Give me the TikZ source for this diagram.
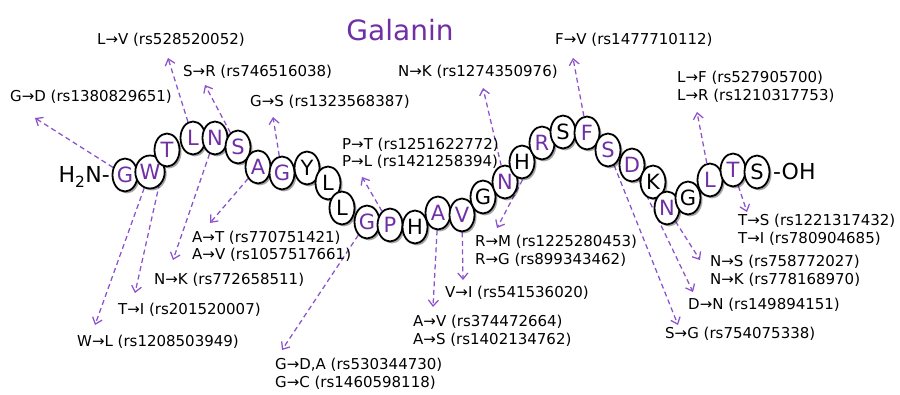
\documentclass[tikz,border=0pt]{standalone}
\usepackage{fontspec}
\setmainfont{DejaVu Sans}
\usetikzlibrary{shapes.geometric,arrows.meta,shadows,backgrounds}
\definecolor{pur}{RGB}{112,48,165}
\definecolor{lpur}{RGB}{140,82,205}
\begin{document}
\begin{tikzpicture}[x=1pt,y=-1pt,
  res/.style={ellipse,draw=black,line width=1.8pt,fill=white,minimum width=25pt,minimum height=33pt,inner sep=0pt,
    font=\fontsize{21}{21}\selectfont,
    drop shadow={shadow xshift=2pt,shadow yshift=-2pt,fill=black,opacity=0.35}},
  lab/.style={font=\fontsize{15}{17.5}\selectfont,align=left,anchor=west,inner sep=0pt},
  snp/.style={draw=lpur,line width=1.25pt,dash pattern=on 5pt off 3.5pt,
    -{Straight Barb[length=6pt,width=10pt,line width=1.25pt]}}]
\useasboundingbox (0,0) rectangle (900,395);

\node[font=\fontsize{28}{30}\selectfont,text=pur] (title) at (400,30) {Galanin};
\node[font=\fontsize{22}{22}\selectfont,anchor=east,inner sep=0pt] (nterm) at (110,177) {H\textsubscript{2}N-};
\node[font=\fontsize{22}{22}\selectfont,anchor=west,inner sep=0pt] (cterm) at (773,171) {-OH};

\foreach \i/\x/\y/\a/\c in {
  1/125/175/G/pur, 2/150/172/W/pur, 3/167/150/T/pur, 4/193/138/L/pur, 5/215/138/N/pur,
  6/238/147/S/pur, 7/258/167/A/pur, 8/282/173/G/pur, 9/307/168/Y/black, 10/328/183/L/black,
  11/342/208/L/black, 12/367/222/G/pur, 13/390/225/P/pur, 14/415/227/H/black, 15/438/213/A/pur,
  16/462/215/V/pur, 17/483/197/G/black, 18/505/182/N/pur, 19/522/162/H/black, 20/542/143/R/pur,
  21/563/132/S/black, 22/587/133/F/pur, 23/608/150/S/pur, 24/632/165/D/pur, 25/653/182/K/black,
  26/667/208/N/pur, 27/688/198/G/black, 28/710/180/L/pur, 29/733/170/T/pur, 30/757/172/S/black}
  \node[res,text=\c] (r\i) at (\x,\y) {\a};

% labels
\node[lab] (l1) at (10,97) {G→D (rs1380829651)};
\node[lab] (l2) at (97,40) {L→V (rs528520052)};
\node[lab] (l3) at (183,72) {S→R (rs746516038)};
\node[lab] (l4) at (250,102) {G→S (rs1323568387)};
\node[lab] (l5) at (342,153.5) {P→T (rs1251622772)\\P→L (rs1421258394)};
\node[lab] (l6) at (398,72) {N→K (rs1274350976)};
\node[lab] (l7) at (555,40) {F→V (rs1477710112)};
\node[lab] (l8) at (677,87) {L→F (rs527905700)\\L→R (rs1210317753)};
\node[lab] (l9) at (738,230) {T→S (rs1221317432)\\T→I (rs780904685)};
\node[lab] (l10) at (710,271) {N→S (rs758772027)\\N→K (rs778168970)};
\node[lab] (l11) at (688,305) {D→N (rs149894151)};
\node[lab] (l12) at (665,334) {S→G (rs754075338)};
\node[lab] (l13) at (475,251) {R→M (rs1225280453)\\R→G (rs899343462)};
\node[lab] (l14) at (445,293) {V→I (rs541536020)};
\node[lab] (l15) at (413,331) {A→V (rs374472664)\\A→S (rs1402134762)};
\node[lab] (l16) at (275,374) {G→D,A (rs530344730)\\G→C (rs1460598118)};
\node[lab] (l17) at (192,246.5) {A→T (rs770751421)\\A→V (rs1057517661)};
\node[lab] (l18) at (154,280) {N→K (rs772658511)};
\node[lab] (l19) at (118,310) {T→I (rs201520007)};
\node[lab] (l20) at (77,342) {W→L (rs1208503949)};

% arrow tips
\coordinate (t1) at (35,118);
\coordinate (t2) at (168,58);
\coordinate (t3) at (205,85);
\coordinate (t4) at (273,117);
\coordinate (t5) at (362,177);
\coordinate (t6) at (483,88);
\coordinate (t7) at (573,58);
\coordinate (t8) at (697,112);
\coordinate (t9) at (747,212);
\coordinate (t10) at (700,260);
\coordinate (t11) at (693,292);
\coordinate (t12) at (678,325);
\coordinate (t13) at (497,228);
\coordinate (t14) at (463,280);
\coordinate (t15) at (433,307);
\coordinate (t16) at (282,350);
\coordinate (t17) at (210,223);
\coordinate (t18) at (173,260);
\coordinate (t19) at (135,293);
\coordinate (t20) at (95,325);

\begin{pgfonlayer}{background}
\fill[white] (0,0) rectangle (900,395);
\draw[snp] (r1) -- (t1);
\draw[snp] (r4) -- (t2);
\draw[snp] (r6) -- (t3);
\draw[snp] (r8) -- (t4);
\draw[snp] (r13) -- (t5);
\draw[snp] (r18) -- (t6);
\draw[snp] (r22) -- (t7);
\draw[snp] (r28) -- (t8);
\draw[snp] (r29) -- (t9);
\draw[snp] (r26) -- (t10);
\draw[snp] (r24) -- (t11);
\draw[snp] (r23) -- (t12);
\draw[snp] (r20) -- (t13);
\draw[snp] (r16) -- (t14);
\draw[snp] (r15) -- (t15);
\draw[snp] (r12) -- (t16);
\draw[snp] (r7) -- (t17);
\draw[snp] (r5) -- (t18);
\draw[snp] (r3) -- (t19);
\draw[snp] (r2) -- (t20);
\end{pgfonlayer}
\end{tikzpicture}
\end{document}
